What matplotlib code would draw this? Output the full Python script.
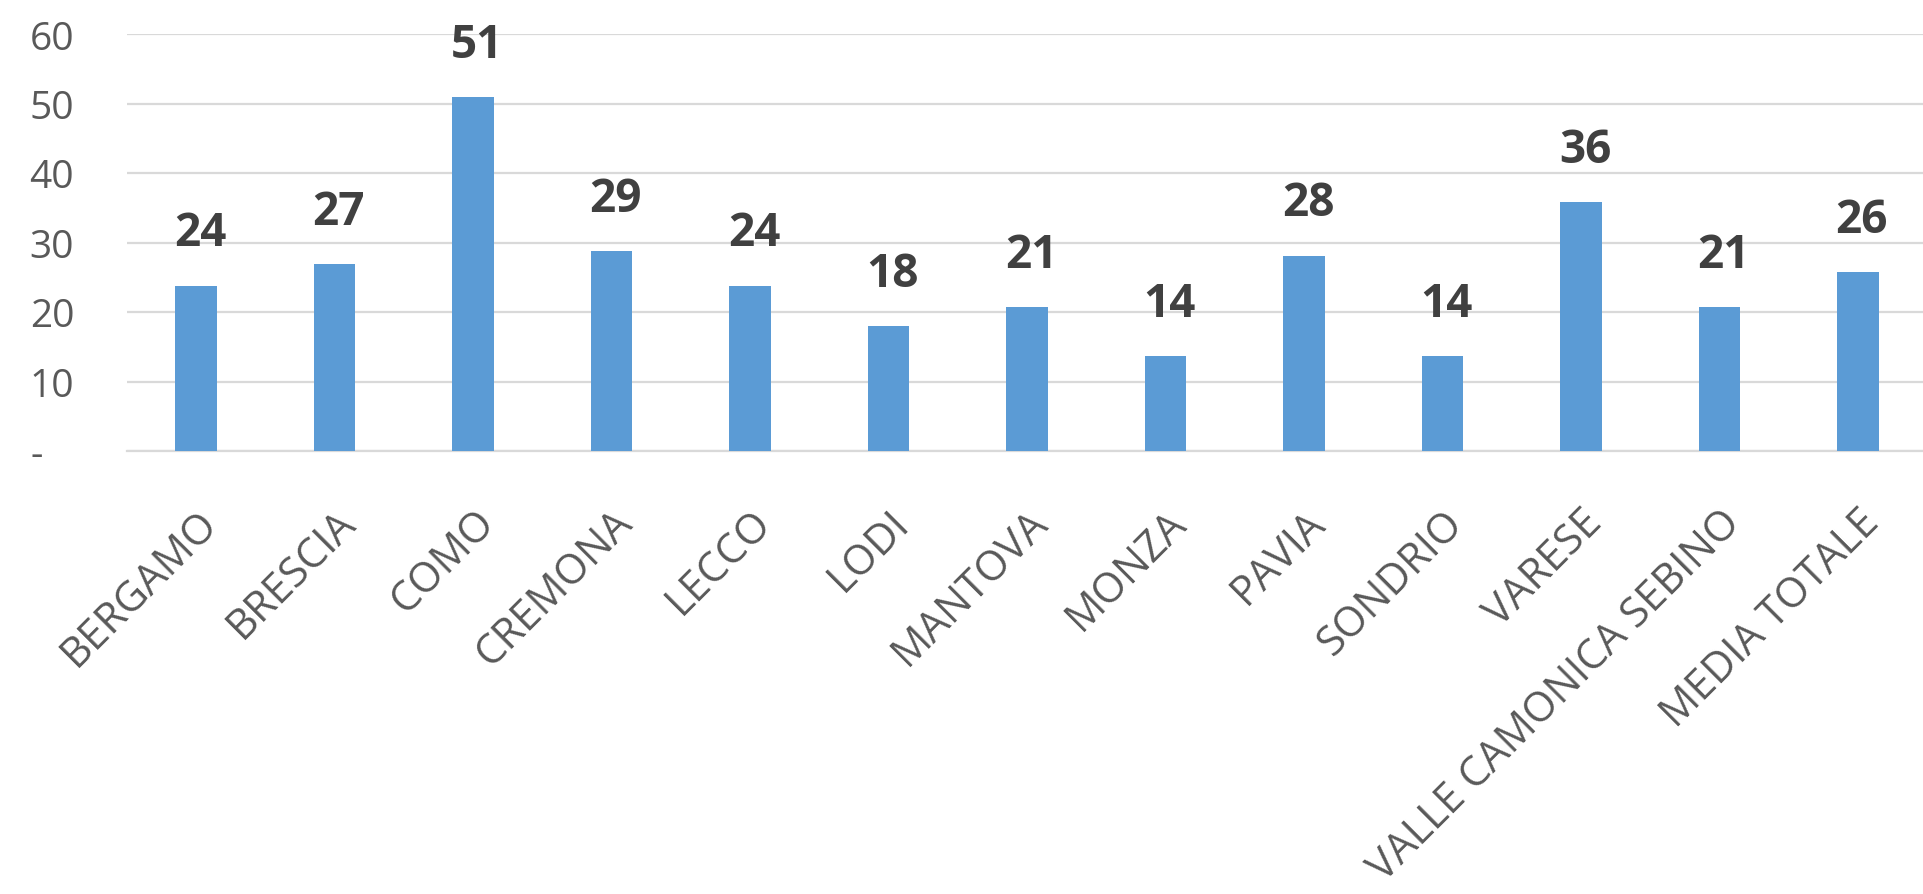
import matplotlib
matplotlib.use("Agg")
import matplotlib.pyplot as plt
import matplotlib.transforms as mtransforms

# dati
province = ['BERGAMO', 'BRESCIA', 'COMO', 'CREMONA', 'LECCO', 'LODI', 'MANTOVA',
            'MONZA', 'PAVIA', 'SONDRIO', 'VARESE', 'VALLE CAMONICA SEBINO', 'MEDIA TOTALE']
valori = [23.8, 26.9, 50.9, 28.8, 23.8, 18.0, 20.7, 13.7, 28.1, 13.7, 35.8, 20.7, 25.7]
y_ticks = [0, 10, 20, 30, 40, 50, 60]
y_labels = ['-   ', '10', '20', '30', '40', '50', '60']

plt.rcParams['font.family'] = ['Open Sans', 'DejaVu Sans']

fig = plt.figure(figsize=(19.23, 8.95), dpi=100)
ax = fig.add_axes([127 / 1923, 443 / 895, 1800 / 1923, 417 / 895])

x = range(len(province))
ax.bar(x, valori, width=0.30, color='#5b9bd5', zorder=3)

for xi, v in zip(x, valori):
    ax.annotate(f"{v:.0f}", (xi, v), xytext=(3, 29), textcoords='offset points',
                ha='center', va='baseline', fontsize=33, fontweight='bold',
                color='#404040', annotation_clip=False)

ax.set_xlim(-0.5, len(province) - 0.5)
ax.set_ylim(0, 60)
ax.set_yticks(y_ticks)
ax.set_yticklabels(y_labels)
ax.yaxis.grid(True, color='#d9d9d9', linewidth=1.6, zorder=0)
ax.set_axisbelow(True)

ax.set_xticks(list(x))
ax.set_xticklabels(province, rotation=45, ha='right', rotation_mode='anchor')
offset = mtransforms.ScaledTranslation(-8 / 100, 0, fig.dpi_scale_trans)
for lab in ax.get_xticklabels():
    lab.set_transform(lab.get_transform() + offset)

ax.tick_params(axis='x', length=0, pad=36, labelsize=30, labelcolor='#595959')
ax.tick_params(axis='y', length=0, pad=38, labelsize=28, labelcolor='#595959')

for side in ['top', 'right', 'left']:
    ax.spines[side].set_visible(False)
ax.spines['bottom'].set_color('#d9d9d9')
ax.spines['bottom'].set_linewidth(1.6)

fig.savefig("out.png", dpi=100)
